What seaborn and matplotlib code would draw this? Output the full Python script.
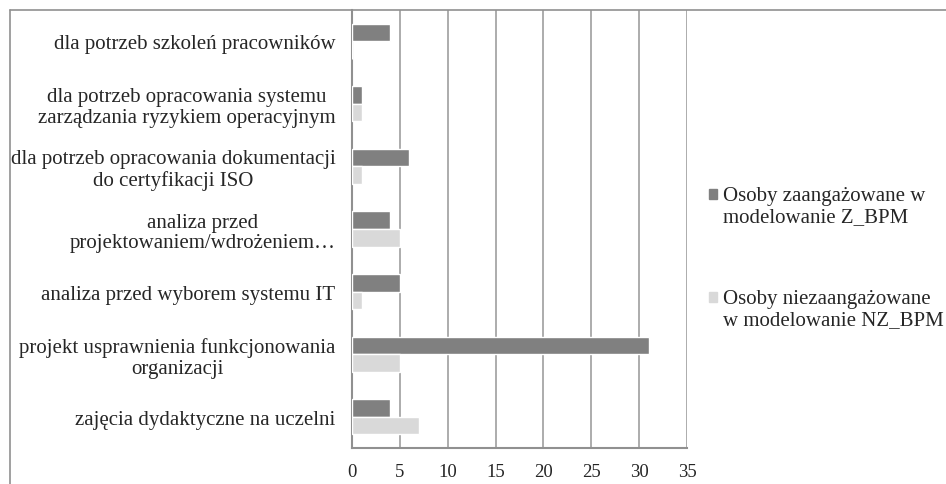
import matplotlib
matplotlib.use("Agg")
import matplotlib.pyplot as plt
from matplotlib.lines import Line2D
import seaborn as sns
import pandas as pd

categories = [
    "dla potrzeb szkoleń pracowników",
    "dla potrzeb opracowania systemu\nzarządzania ryzykiem operacyjnym",
    "dla potrzeb opracowania dokumentacji\ndo certyfikacji ISO",
    "analiza przed\nprojektowaniem/wdrożeniem…",
    "analiza przed wyborem systemu IT",
    "projekt usprawnienia funkcjonowania\norganizacji",
    "zajęcia dydaktyczne na uczelni",
]
series_names = [
    "Osoby zaangażowane w\nmodelowanie Z_BPM",
    "Osoby niezaangażowane\nw modelowanie NZ_BPM",
]
z_values = [4, 1, 6, 4, 5, 31, 4]
nz_values = [0, 1, 1, 5, 1, 5, 7]
x_ticks = [0, 5, 10, 15, 20, 25, 30, 35]
colors = ["#808080", "#d9d9d9"]

rows = []
for c, v in zip(categories, z_values):
    rows.append({"cat": c, "series": series_names[0], "val": v})
for c, v in zip(categories, nz_values):
    rows.append({"cat": c, "series": series_names[1], "val": v})
df = pd.DataFrame(rows)

sns.set_style("white")
plt.rcParams["font.family"] = ["Liberation Serif", "DejaVu Serif"]

FS = 15

fig = plt.figure(figsize=(9.46, 4.85), dpi=100)
ax = fig.add_axes([352 / 946, 1 - 449 / 485, (687 - 352) / 946, (449 - 11) / 485])

sns.barplot(data=df, y="cat", x="val", hue="series", order=categories,
            hue_order=series_names, palette=colors, orient="h",
            width=0.56, ax=ax, saturation=1, legend=False, zorder=3)

ax.set_xlim(0, 35)
ax.set_xticks(x_ticks)
ax.set_xticklabels([str(t) for t in x_ticks])
ax.set_xlabel("")
ax.set_ylabel("")
ax.grid(axis="x", color="#a6a6a6", linewidth=1.3, zorder=0)
ax.grid(axis="y", visible=False)
ax.set_axisbelow(True)
for s in ["top", "right"]:
    ax.spines[s].set_visible(False)
for s in ["left", "bottom"]:
    ax.spines[s].set_color("#909090")
    ax.spines[s].set_linewidth(1.5)
ax.tick_params(axis="x", length=0, pad=11, labelsize=13.5)
ax.tick_params(axis="y", length=0, pad=12, labelsize=FS)
for lbl in ax.get_yticklabels():
    lbl.set_multialignment("center")
    lbl.set_linespacing(1.12)

handles = [plt.Rectangle((0, 0), 1, 1, color=c) for c in colors]
leg = fig.legend(handles, series_names, loc="upper left",
                 bbox_to_anchor=(709 / 946, 1 - 187 / 485), frameon=False,
                 fontsize=FS, handlelength=0.36, handleheight=0.36,
                 handletextpad=0.3, labelspacing=3.05, borderaxespad=0,
                 borderpad=0)
for t in leg.get_texts():
    t.set_linespacing(1.12)
for h in leg.legend_handles:
    h.set_y(h.get_y() + 8.5)

fig.add_artist(Line2D([10 / 946, 1], [1 - 11 / 485, 1 - 11 / 485],
                      transform=fig.transFigure, color="#909090", linewidth=1.2))
fig.add_artist(Line2D([10 / 946, 10 / 946], [0, 1 - 11 / 485],
                      transform=fig.transFigure, color="#909090", linewidth=1.2))

fig.savefig("out.png", dpi=100)
